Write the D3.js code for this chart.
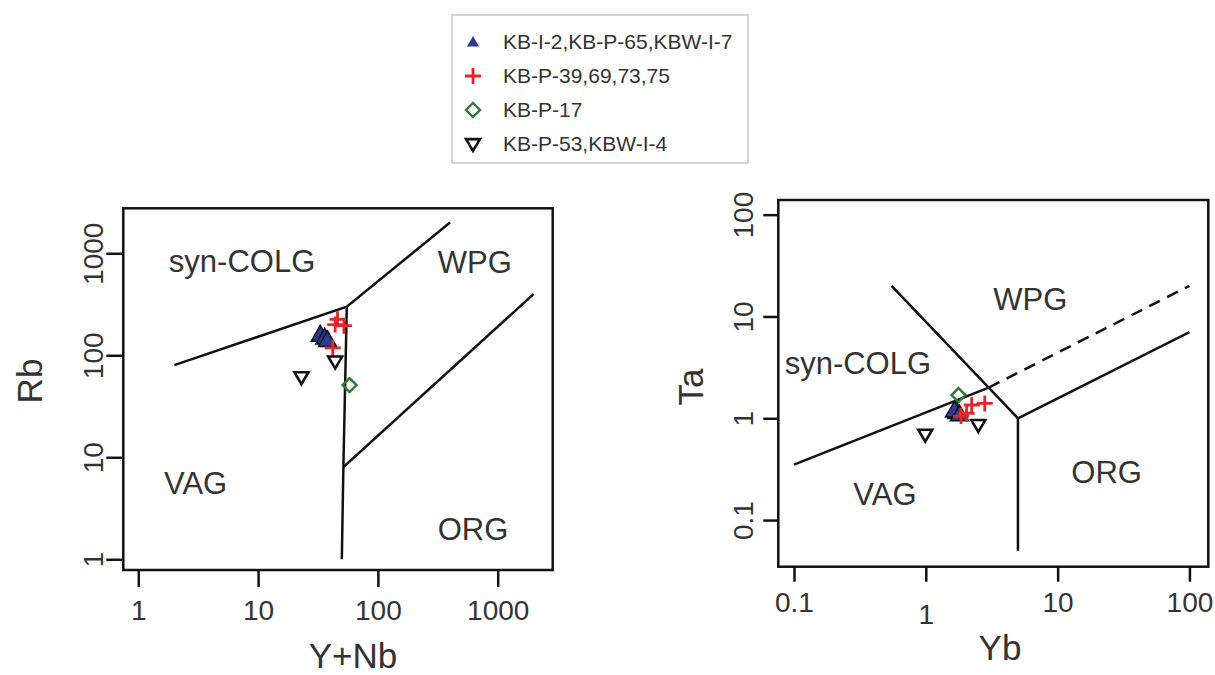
<!DOCTYPE html>
<html>
<head>
<meta charset="utf-8">
<script src="https://cdn.jsdelivr.net/npm/d3@7"></script>
<style>
  body { margin: 0; background: #fff; }
  svg { font-family: "Liberation Sans", Arial, sans-serif; }
</style>
</head>
<body>
<svg id="chart" width="1215" height="675"></svg>
<script>
// legend groups
let groups = ['KB-I-2,KB-P-65,KBW-I-7', 'KB-P-39,69,73,75', 'KB-P-17', 'KB-P-53,KBW-I-4'];
let group_symbol = ['tri', 'plus', 'diamond', 'itri'];

// Rb vs Y+Nb samples, [Y+Nb, Rb]
let rb_tri = [[33, 160], [36, 150], [38, 142]];
let rb_plus = [[46, 225], [44, 200], [52, 195], [42, 118]];
let rb_diamond = [[58, 51]];
let rb_itri = [[44, 87], [23, 61]];

// Ta vs Yb samples, [Yb, Ta]
let ta_tri = [[1.72, 1.16], [1.65, 1.2], [1.8, 1.1]];
let ta_plus = [[2.23, 1.35], [2.8, 1.4], [2.04, 1.12], [1.85, 1.05]];
let ta_diamond = [[1.77, 1.69]];
let ta_itri = [[2.5, 0.86], [0.99, 0.69]];

// field boundaries (Pearce et al. 1984)
let rb_lines = [
	[[2, 80], [55, 300], [400, 2000]],
	[[55, 300], [51.5, 8], [50, 1]],
	[[51.5, 8], [2000, 400]]
];
let ta_lines = [
	[[0.1, 0.35], [3, 2]],
	[[0.55, 20], [3, 2], [5, 1]],
	[[5, 1], [5, 0.05]],
	[[5, 1], [100, 7]]
];
let ta_dashed = [
	[[3, 2], [100, 20]]
];

// field names, [x, y] of text start (baseline)
let rb_fields = [['syn-COLG', 1.8, 660], ['WPG', 316, 637], ['VAG', 1.64, 4.37], ['ORG', 316, 1.55]];
let ta_fields = [['syn-COLG', 0.085, 2.7], ['WPG', 3.25, 11.6], ['VAG', 0.282, 0.141], ['ORG', 12.7, 0.23]];

let rb_ticks = [1, 10, 100, 1000];
let ta_ticks = [0.1, 1, 10, 100];

let color = {
	'tri': '#2c3a93',
	'plus': '#e3262b',
	'diamond': '#2f7a35',
	'itri': '#111'
};

let svg = d3.select('#chart');

function drawSymbol(g, kind, cx, cy, legend) {
	if (kind === 'tri') {
		let s = legend ? 6 : 9;
		g.append('path')
			.attr('d', `M${cx},${cy - s}L${cx + s},${cy + s * 0.75}L${cx - s},${cy + s * 0.75}Z`)
			.attr('fill', color.tri)
			.attr('stroke', legend ? 'none' : '#111')
			.attr('stroke-width', 1.5);
	} else if (kind === 'plus') {
		let s = 8;
		g.append('path')
			.attr('d', `M${cx - s},${cy}H${cx + s}M${cx},${cy - s}V${cy + s}`)
			.attr('stroke', color.plus)
			.attr('stroke-width', 2.8)
			.attr('fill', 'none');
	} else if (kind === 'diamond') {
		let s = 7;
		g.append('path')
			.attr('d', `M${cx},${cy - s}L${cx + s},${cy}L${cx},${cy + s}L${cx - s},${cy}Z`)
			.attr('stroke', color.diamond)
			.attr('stroke-width', 2.4)
			.attr('fill', 'none');
	} else {
		let s = 7;
		g.append('path')
			.attr('d', `M${cx - s},${cy - s * 0.7}L${cx + s},${cy - s * 0.7}L${cx},${cy + s}Z`)
			.attr('stroke', color.itri)
			.attr('stroke-width', 2.6)
			.attr('stroke-linejoin', 'miter')
			.attr('fill', 'none');
	}
}

function drawPanel(opt) {
	let x = d3.scaleLog().domain(opt.xDomain).range([opt.left, opt.right]);
	let y = d3.scaleLog().domain(opt.yDomain).range([opt.bottom, opt.top]);
	let g = svg.append('g');

	// axes
	let xAxis = d3.axisBottom(x)
		.tickValues(opt.ticks)
		.tickFormat(d3.format('~g'))
		.tickSize(opt.tick)
		.tickSizeOuter(0);
	let ax = g.append('g')
		.attr('transform', 'translate(0,' + opt.bottom + ')')
		.call(xAxis);
	ax.selectAll('.tick text')
		.attr('y', opt.xLabGap)
		.attr('dy', d => (opt.xLabShift && opt.xLabShift[d]) || 0)
		.attr('font-size', 28)
		.attr('font-family', '"Liberation Sans", Arial, sans-serif')
		.attr('fill', '#333');

	let yAxis = d3.axisLeft(y)
		.tickValues(opt.ticks)
		.tickFormat(d3.format('~g'))
		.tickSize(opt.tick)
		.tickSizeOuter(0);
	let ay = g.append('g')
		.attr('transform', 'translate(' + opt.left + ',0)')
		.call(yAxis);
	ay.selectAll('.tick text')
		.attr('transform', 'rotate(-90)')
		.attr('x', 0)
		.attr('y', -opt.yLabGap)
		.attr('dy', 0)
		.attr('text-anchor', 'middle')
		.attr('font-size', 28)
		.attr('font-family', '"Liberation Sans", Arial, sans-serif')
		.attr('fill', '#333');

	g.selectAll('.domain').remove();
	g.selectAll('.tick line').attr('stroke', '#111').attr('stroke-width', 2.5);

	// box
	g.append('rect')
		.attr('x', opt.left)
		.attr('y', opt.top)
		.attr('width', opt.right - opt.left)
		.attr('height', opt.bottom - opt.top)
		.attr('fill', 'none')
		.attr('stroke', '#111')
		.attr('stroke-width', 2.5);

	let line = d3.line().x(d => x(d[0])).y(d => y(d[1]));

	g.selectAll('.field')
		.data(opt.lines)
		.enter()
		.append('path')
		.attr('d', line)
		.attr('fill', 'none')
		.attr('stroke', '#111')
		.attr('stroke-width', 2.5);

	g.selectAll('.dashed')
		.data(opt.dashed || [])
		.enter()
		.append('path')
		.attr('d', line)
		.attr('fill', 'none')
		.attr('stroke', '#111')
		.attr('stroke-width', 2.5)
		.attr('stroke-dasharray', '12,8');

	g.selectAll('.fieldname')
		.data(opt.fields)
		.enter()
		.append('text')
		.attr('x', d => x(d[1]))
		.attr('y', d => y(d[2]))
		.attr('font-size', 31)
		.attr('fill', '#333')
		.text(d => d[0]);

	// samples
	opt.points.forEach(function(p) {
		p[1].forEach(function(d) {
			drawSymbol(g, p[0], x(d[0]), y(d[1]), false);
		});
	});

	// axis titles
	g.append('text')
		.attr('x', opt.xTitle[0])
		.attr('y', opt.xTitle[1])
		.attr('text-anchor', 'middle')
		.attr('font-size', 35)
		.attr('fill', '#333')
		.text(opt.xName);
	g.append('text')
		.attr('transform', `translate(${opt.yTitle[0]},${opt.yTitle[1]}) rotate(-90)`)
		.attr('text-anchor', 'middle')
		.attr('font-size', 35)
		.attr('fill', '#333')
		.text(opt.yName);
}

drawPanel({
	xDomain: [Math.pow(10, -0.125), Math.pow(10, 3.459)],
	yDomain: [Math.pow(10, -0.105), Math.pow(10, 3.441)],
	left: 123.3, right: 552.7, top: 208.3, bottom: 570,
	ticks: rb_ticks, tick: 17, xLabGap: 50, yLabGap: 20,
	lines: rb_lines, fields: rb_fields,
	points: [['tri', rb_tri], ['plus', rb_plus], ['diamond', rb_diamond], ['itri', rb_itri]],
	xName: 'Y+Nb', yName: 'Rb', xTitle: [353, 668], yTitle: [42, 381]
});

drawPanel({
	xDomain: [Math.pow(10, -1.119), Math.pow(10, 2.143)],
	yDomain: [Math.pow(10, -1.458), Math.pow(10, 2.144)],
	left: 778.3, right: 1208.3, top: 200, bottom: 566.7,
	ticks: ta_ticks, tick: 15, xLabGap: 45, yLabGap: 25, xLabShift: {1: 12},
	lines: ta_lines, dashed: ta_dashed, fields: ta_fields,
	points: [['diamond', ta_diamond], ['tri', ta_tri], ['plus', ta_plus], ['itri', ta_itri]],
	xName: 'Yb', yName: 'Ta', xTitle: [1000, 660], yTitle: [703, 387]
});

// legend
let legend = svg.append('g');
legend.append('rect')
	.attr('x', 452)
	.attr('y', 15)
	.attr('width', 296)
	.attr('height', 148)
	.attr('fill', '#fff')
	.attr('stroke', '#c8c8c8')
	.attr('stroke-width', 1.5);

let rowY = d3.scalePoint().domain(groups).range([42, 144]);
groups.forEach(function(name, i) {
	drawSymbol(legend, group_symbol[i], 473, rowY(name), true);
	legend.append('text')
		.attr('x', 503)
		.attr('y', rowY(name))
		.attr('dy', '0.35em')
		.attr('font-size', 21)
		.attr('fill', '#333')
		.text(name);
});
</script>
</body>
</html>
